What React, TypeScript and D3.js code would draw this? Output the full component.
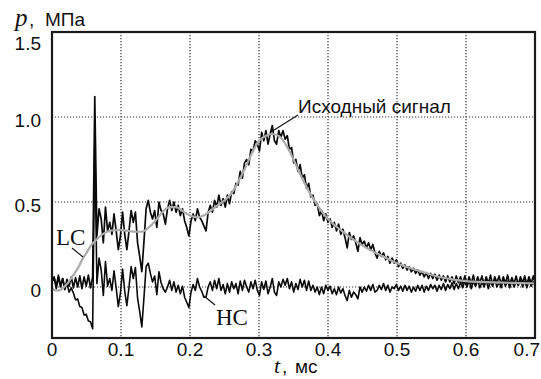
import React from "react";
import * as d3 from "d3";

const W = 541;
const H = 379;

// Sampling interval of the recorded traces, ms
const STEP = 0.0031;

// Recorded pressure signal, MPa (sampled every STEP ms from t = 0)
const sourceSignal = [
  0.03, 0.055, -0.01, 0.06, 0.0, 0.05, -0.015, 0.045, 0.005, 0.06,
  -0.005, 0.055, 0.0, 0.065, -0.01, 0.06, 0.005, 0.07, -0.005, 0.06,
  1.12, 0.30, 0.46, 0.40, 0.26, 0.47, 0.33, 0.38, 0.31, 0.43,
  0.33, 0.22, 0.30, 0.44, 0.31, 0.22, 0.33, 0.45, 0.38, 0.44,
  0.26, 0.18, 0.09, 0.27, 0.46, 0.51, 0.44, 0.40, 0.45, 0.35,
  0.50, 0.45, 0.43, 0.37, 0.46, 0.51, 0.45, 0.50, 0.44, 0.48,
  0.42, 0.46, 0.39, 0.35, 0.30, 0.39, 0.43, 0.39, 0.46, 0.41,
  0.39, 0.36, 0.33, 0.44, 0.48, 0.44, 0.51, 0.47, 0.54, 0.48,
  0.52, 0.47, 0.54, 0.49, 0.56, 0.55, 0.61, 0.60, 0.68, 0.64,
  0.73, 0.75, 0.72, 0.81, 0.80, 0.86, 0.84, 0.80, 0.91, 0.86,
  0.92, 0.84, 0.90, 0.95, 0.86, 0.84, 0.92, 0.88, 0.92, 0.87,
  0.89, 0.81, 0.82, 0.73, 0.75, 0.68, 0.72, 0.64, 0.66, 0.58,
  0.61, 0.53, 0.54, 0.48, 0.49, 0.42, 0.45, 0.39, 0.43, 0.38,
  0.40, 0.35, 0.38, 0.33, 0.37, 0.31, 0.34, 0.29, 0.23, 0.32,
  0.28, 0.30, 0.26, 0.21, 0.29, 0.25, 0.27, 0.23, 0.26, 0.22,
  0.25, 0.20, 0.17, 0.21, 0.18, 0.20, 0.16, 0.18, 0.14, 0.17,
  0.14, 0.16, 0.12, 0.14, 0.11, 0.13, 0.10, 0.12, 0.09, 0.11,
  0.08, 0.10, 0.07, 0.09, 0.06, 0.085, 0.05, 0.08, 0.05, 0.075,
  0.04, 0.07, 0.04, 0.065, 0.03, 0.065, 0.03, 0.06, 0.02, 0.065,
  0.025, 0.06, 0.02, 0.065, 0.015, 0.06, 0.02, 0.07, 0.01, 0.06,
  0.025, 0.065, 0.015, 0.06, 0.02, 0.07, 0.01, 0.06, 0.025, 0.065,
  0.015, 0.06, 0.02, 0.07, 0.015, 0.055, 0.02, 0.065, 0.01, 0.06,
  0.025, 0.065, 0.015, 0.06, 0.02, 0.065, 0.02,
];

// High-frequency component (HC), MPa, same sampling
const hcSignal = [
  0.035, 0.06, 0.005, 0.07, 0.01, 0.05, -0.01, 0.02, -0.03, -0.005,
  -0.035, -0.075, -0.07, -0.115, -0.12, -0.165, -0.16, -0.2, -0.205, -0.245,
  0.85, 0.02, 0.17, 0.10, -0.05, 0.15, 0.005, 0.05, -0.02, 0.095,
  -0.005, -0.115, -0.035, 0.105, -0.025, -0.11, 0.0, 0.12, 0.05, 0.115,
  -0.065, -0.145, -0.235, -0.06, 0.12, 0.14, 0.08, 0.03, 0.065, -0.045,
  0.09, 0.025, -0.01, -0.03, 0.0, 0.04, -0.02, 0.03, -0.03, 0.01,
  -0.04, 0.005, -0.06, -0.09, -0.12, -0.03, 0.015, -0.02, 0.05, 0.0,
  -0.025, -0.06, -0.06, 0.0, 0.03, -0.02, 0.04, -0.01, 0.05, -0.02,
  0.015, -0.04, 0.02, -0.03, 0.03, -0.01, 0.02, -0.04, 0.035, -0.02,
  0.04, 0.0, -0.03, 0.03, -0.01, 0.04, -0.02, -0.05, 0.03, -0.015,
  0.035, -0.04, 0.0, 0.05, -0.03, -0.05, 0.03, 0.0, 0.045, 0.01,
  0.05, -0.01, 0.03, -0.03, 0.02, -0.015, 0.045, 0.0, 0.04, -0.02,
  0.035, -0.02, 0.01, -0.03, 0.0, -0.045, 0.0, -0.04, 0.01, -0.02,
  0.005, -0.04, -0.01, -0.045, 0.0, -0.035, -0.01, -0.05, -0.08, -0.02,
  -0.06, -0.03, -0.045, -0.07, 0.0, -0.03, 0.0, -0.025, 0.01, -0.02,
  0.015, -0.03, -0.02, 0.01, -0.015, 0.02, -0.02, 0.01, -0.03, 0.0,
  -0.01, 0.015, -0.02, 0.005, -0.025, 0.01, -0.02, 0.005, -0.03, 0.0,
  -0.025, 0.01, -0.02, 0.01, -0.03, 0.005, -0.02, 0.015, -0.01, 0.01,
  -0.025, 0.01, -0.015, 0.02, -0.02, 0.015, -0.01, 0.025, -0.015, 0.02,
  -0.01, 0.03, -0.005, 0.035, 0.0, 0.04, -0.01, 0.035, 0.005, 0.04,
  -0.005, 0.03, 0.0, 0.04, -0.01, 0.035, 0.005, 0.045, 0.0, 0.03,
  -0.005, 0.04, 0.005, 0.035, -0.005, 0.04, 0.0, 0.03, 0.01, 0.045,
  0.0, 0.035, -0.005, 0.04, 0.005, 0.03, 0.0,
];

// Low-frequency component (LC)
const lcTimes = [
  0, 0.005, 0.01, 0.015, 0.02, 0.025, 0.03, 0.035, 0.04, 0.045,
  0.05, 0.055, 0.06, 0.065, 0.07, 0.08, 0.09, 0.1, 0.11, 0.12,
  0.13, 0.14, 0.15, 0.16, 0.17, 0.18, 0.19, 0.2, 0.21, 0.22,
  0.23, 0.24, 0.25, 0.26, 0.27, 0.28, 0.29, 0.3, 0.31, 0.32,
  0.33, 0.34, 0.35, 0.36, 0.37, 0.38, 0.39, 0.4, 0.42, 0.44,
  0.46, 0.48, 0.5, 0.52, 0.54, 0.56, 0.58, 0.6, 0.62, 0.64,
  0.66, 0.68, 0.7,
];
const lcValues = [
  -0.01, -0.02, -0.02, -0.01, 0.01, 0.035, 0.065, 0.095, 0.13, 0.17,
  0.2, 0.235, 0.26, 0.28, 0.3, 0.325, 0.335, 0.335, 0.33, 0.325,
  0.325, 0.35, 0.39, 0.44, 0.47, 0.47, 0.445, 0.42, 0.41, 0.42,
  0.45, 0.48, 0.51, 0.55, 0.62, 0.7, 0.79, 0.86, 0.89, 0.9,
  0.885, 0.83, 0.75, 0.66, 0.58, 0.51, 0.45, 0.4, 0.33, 0.27,
  0.22, 0.18, 0.14, 0.11, 0.085, 0.06, 0.045, 0.035, 0.03, 0.027,
  0.025, 0.023, 0.022,
];

const xTicks = [0, 0.1, 0.2, 0.3, 0.4, 0.5, 0.6, 0.7];
const xTickLabels = ["0", "0.1", "0.2", "0.3", "0.4", "0.5", "0.6", "0.7"];
const yTicks = [0, 0.5, 1.0, 1.5];
const yTickLabels = ["0", "0.5", "1.0", "1.5"];

const SANS = "'Liberation Sans', Arial, Helvetica, sans-serif";
const SERIF = "'Liberation Serif', 'Times New Roman', serif";

export default function App() {
  const left = 52;
  const right = 535;
  const top = 32;
  const bottom = 338;

  const x = d3.scaleLinear().domain([0, 0.7]).range([left, right]);
  const y = d3.scaleLinear().domain([-0.3, 1.5]).range([bottom, top]);

  const sampled = d3
    .line<number>()
    .x((_, i) => x(i * STEP))
    .y((d) => y(d));

  const lcLine = d3
    .line<number>()
    .x((_, i) => x(lcTimes[i]))
    .y((d) => y(d))
    .curve(d3.curveMonotoneX);

  const gridX = xTicks.filter((t) => t > 0 && t < 0.7);
  const gridY = yTicks.filter((v) => v < 1.5);

  return (
    <svg
      width={W}
      height={H}
      viewBox={`0 0 ${W} ${H}`}
      style={{ position: "absolute", left: 0, top: 0, background: "#fff" }}
    >
      <defs>
        <clipPath id="plot-area">
          <rect x={left} y={top} width={right - left} height={bottom - top} />
        </clipPath>
      </defs>
      <rect x={0} y={0} width={W} height={H} fill="#fff" />

      {/* dotted grid */}
      <g stroke="#333" strokeWidth={1.2} strokeDasharray="1.2 1.8" fill="none">
        {gridX.map((t) => (
          <line key={`gx${t}`} x1={x(t)} x2={x(t)} y1={top} y2={bottom} />
        ))}
        {gridY.map((v) => (
          <line key={`gy${v}`} x1={left} x2={right} y1={y(v)} y2={y(v)} />
        ))}
      </g>

      <g clipPath="url(#plot-area)" fill="none" strokeLinejoin="round">
        <path d={sampled(sourceSignal) || ""} stroke="#0a0a0a" strokeWidth={1.7} />
        <path d={sampled(hcSignal) || ""} stroke="#0a0a0a" strokeWidth={1.6} />
        <path d={lcLine(lcValues) || ""} stroke="#ababab" strokeWidth={2.2} />
      </g>

      {/* frame */}
      <rect
        x={left}
        y={top}
        width={right - left}
        height={bottom - top}
        fill="none"
        stroke="#1a1a1a"
        strokeWidth={2.2}
      />

      {/* y tick labels */}
      <g fontFamily={SANS} fontSize={19} fill="#111" textAnchor="end">
        {yTicks.map((v, i) => (
          <text key={`yl${v}`} x={41} y={Math.max(y(v), top + 8) + 9.5}>
            {yTickLabels[i]}
          </text>
        ))}
      </g>

      {/* x tick labels */}
      <g fontFamily={SANS} fontSize={19} fill="#111">
        {xTicks.map((t, i) => {
          const last = i === xTicks.length - 1;
          return (
            <text
              key={`xl${t}`}
              x={last ? W - 1 : x(t)}
              y={356}
              textAnchor={last ? "end" : "middle"}
            >
              {xTickLabels[i]}
            </text>
          );
        })}
      </g>

      {/* axis titles */}
      <text x={15} y={26} fontFamily={SERIF} fontStyle="italic" fontSize={25} fill="#111">
        p
      </text>
      <text x={29} y={26} fontFamily={SANS} fontSize={19} fill="#111">
        ,
      </text>
      <text x={45} y={26} fontFamily={SANS} fontSize={19} fill="#111">
        МПа
      </text>

      <text x={274} y={373} fontFamily={SERIF} fontStyle="italic" fontSize={22} fill="#111">
        t
      </text>
      <text x={282} y={373} fontFamily={SANS} fontSize={19} fill="#111">
        ,
      </text>
      <text x={295} y={373} fontFamily={SANS} fontSize={19} fill="#111">
        мс
      </text>

      {/* curve annotations */}
      <g stroke="#111" strokeWidth={1.1}>
        <line x1={298} y1={115} x2={271} y2={132} />
        <line x1={72} y1={248} x2={83} y2={257} />
        <line x1={204} y1={296} x2={215} y2={305} />
      </g>
      <text x={298} y={113} fontFamily={SANS} fontSize={19} fill="#111">
        Исходный сигнал
      </text>
      <text x={56} y={245} fontFamily={SERIF} fontSize={23} fill="#111">
        LC
      </text>
      <text x={216} y={325} fontFamily={SERIF} fontSize={23} fill="#111">
        HC
      </text>
    </svg>
  );
}
